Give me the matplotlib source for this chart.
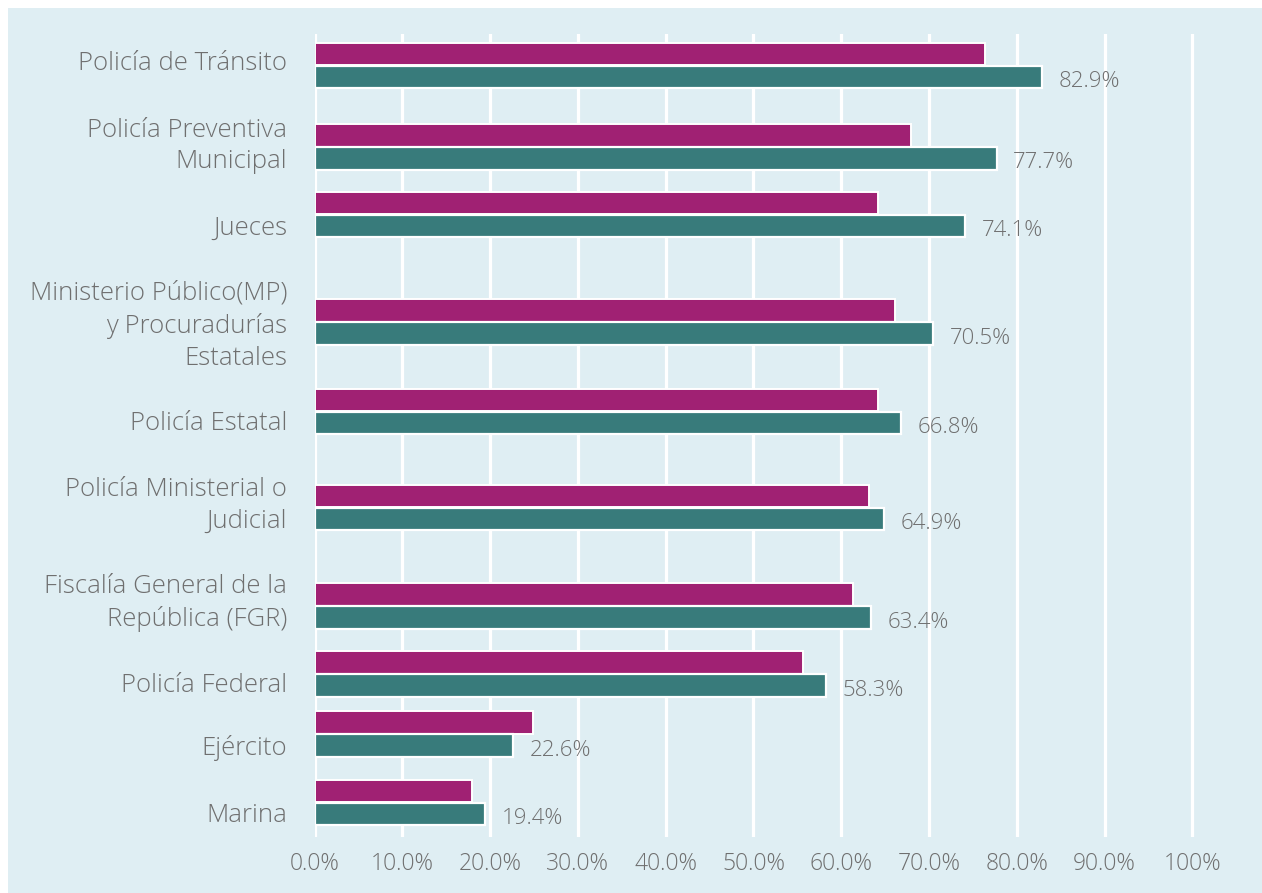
import matplotlib.pyplot as plt
from matplotlib.patches import Rectangle
import numpy as np

# Data
categories = [
    'Policía de Tránsito',
    'Policía Preventiva\nMunicipal',
    'Jueces',
    'Ministerio Público(MP)\ny Procuradurías\nEstatales',
    'Policía Estatal',
    'Policía Ministerial o\nJudicial',
    'Fiscalía General de la\nRepública (FGR)',
    'Policía Federal',
    'Ejército',
    'Marina',
]
serie_a = [76.4, 68.0, 64.2, 66.1, 64.2, 63.2, 61.3, 55.6, 24.9, 17.9]  # magenta
serie_b = [82.9, 77.7, 74.1, 70.5, 66.8, 64.9, 63.4, 58.3, 22.6, 19.4]  # teal
x_ticks = [0, 10, 20, 30, 40, 50, 60, 70, 80, 90, 100]
x_tick_labels = ['0.0%', '10.0%', '20.0%', '30.0%', '40.0%', '50.0%',
                 '60.0%', '70.0%', '80.0%', '90.0%', '100%']

# Layout: uneven row spacing as in the original (pixel-like units)
first_row = 31.5
row_gaps = [81.5, 67.5, 107.5, 89.5, 96, 98.5, 68, 60, 68.5]
rows = first_row + np.concatenate([[0], np.cumsum(row_gaps)])
# the category labels do not sit exactly on the bar centres in the original
label_shift = np.array([-1.5, -1, 13.5, 4, 12.5, -2.5, -3, 11, 14, 12.5])

bg = '#dfeef3'
text_color = '#6f6f6f'
magenta = '#a02173'
teal = '#387b7b'
font = 'Open Sans'

fig = plt.figure(figsize=(12.62, 8.93), dpi=100)
fig.patch.set_facecolor('white')
fig.patches.append(Rectangle((8 / 1262, 0), 1, 1 - 8 / 893, transform=fig.transFigure,
                             facecolor=bg, edgecolor='none', zorder=-10))

ax = fig.add_axes([314.5 / 1262, 1 - 837 / 893, 895.4 / 1262, 803 / 893])
ax.set_facecolor('none')

h = 22.5
ax.barh(rows - 11.5, serie_a, height=h, color=magenta, edgecolor='white',
        linewidth=1.4, zorder=3)
ax.barh(rows + 11.5, serie_b, height=h, color=teal, edgecolor='white',
        linewidth=1.6, zorder=3)

for y, v in zip(rows, serie_b):
    ax.text(v + 1.9, y + 16, f'{v:.1f}%', va='center', ha='left',
            fontsize=16, color=text_color, family=font, fontweight='light')

# category labels
for y, lab in zip(rows + label_shift, categories):
    ax.annotate(lab, xy=(0, y), xycoords=('axes fraction', 'data'),
                xytext=(-27.5, 0), textcoords='offset pixels',
                ha='right', va='center', multialignment='right',
                linespacing=1.36, fontsize=18.5, color=text_color,
                family=font, fontweight='light', annotation_clip=False)

ax.set_xlim(0, 102)
ax.set_ylim(803, 0)
ax.set_xticks(x_ticks)
ax.set_xticklabels(x_tick_labels)
ax.set_yticks([])

for lab in ax.get_xticklabels():
    lab.set_family(font)
    lab.set_fontweight('light')
    lab.set_color(text_color)
    lab.set_fontsize(16.5)

ax.tick_params(axis='x', length=0, pad=11)
ax.grid(axis='x', color='white', linewidth=2.3, zorder=0)
ax.set_axisbelow(True)
for s in ax.spines.values():
    s.set_visible(False)

plt.savefig('out.png', dpi=100, facecolor=fig.get_facecolor())
plt.close()
